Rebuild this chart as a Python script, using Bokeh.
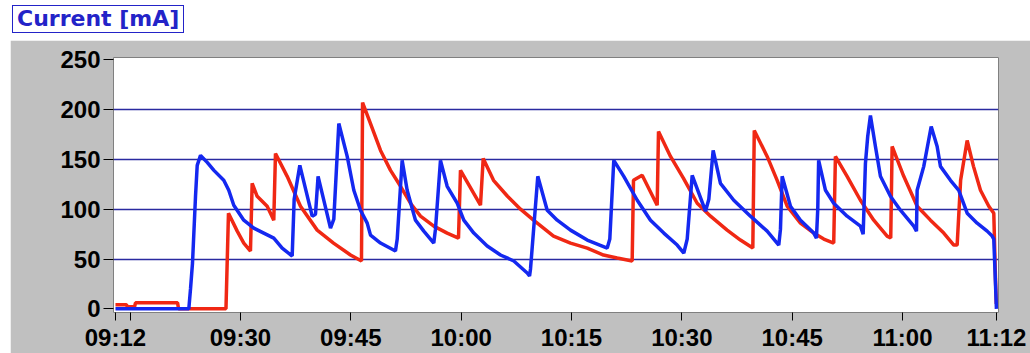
from bokeh.plotting import figure
from bokeh.layouts import column
from bokeh.models import Range1d, FixedTicker, Div
from bokeh.embed import file_html
from bokeh.resources import INLINE

# Time is given in minutes after 09:00, current in mA.
red_t = [13.01, 14.5, 14.64, 15.6, 15.73, 21.45, 21.58, 28.03, 28.37, 29.56, 30.45, 31.36,
         31.59, 32.27, 33.63, 34.53, 34.76, 36.35, 38.16, 40.43, 42.65, 44.96, 46.45, 46.6,
         47.68, 49.04, 50.40, 51.76, 53.11, 54.47, 56.28, 58.10, 59.64, 59.91, 62.63, 63.00,
         64.40, 66.30, 68.07, 69.84, 72.56, 74.87, 77.14, 79.35, 81.21, 83.25, 83.43, 84.61,
         86.65, 86.83, 88.46, 90.23, 92.09, 93.90, 96.16, 97.97, 99.65, 99.85, 101.60, 102.96,
         104.32, 106.13, 107.94, 109.3, 110.65, 110.88, 112.47, 114.28, 116.09, 117.91, 118.4,
         118.59, 120.17, 121.99, 123.80, 125.61, 126.97, 127.43, 127.9, 128.79, 129.65, 130.60,
         131.73, 132.41, 132.64, 132.75]
red_ma = [4, 4, 2, 2, 6, 6, 0, 0, 96, 78, 66, 58,
          126, 113, 103, 89, 156, 133, 103, 79, 66, 54, 48, 207,
          186, 159, 139, 123, 106, 93, 83, 76, 71, 139, 104, 151,
          129, 113, 100, 89, 73, 66, 61, 54, 51, 48, 129, 134,
          104, 178, 153, 131, 106, 93, 79, 69, 61, 179, 153, 129,
          103, 86, 76, 70, 66, 153, 133, 109, 89, 73, 71,
          163, 133, 103, 89, 76, 64, 64, 129, 169, 143, 119,
          103, 96, 30, 5]

blue_t = [13.01, 22.98, 23.21, 23.48, 23.89, 24.12, 24.57, 25.48, 26.39, 27.73, 28.41, 29.09,
          30.45, 31.81, 33.17, 34.53, 35.67, 37.03, 37.3, 38.07, 39.75, 40.20, 40.55, 42.24,
          42.69, 43.37, 44.51, 45.41, 46.32, 47.23, 47.68, 49.04, 51.07, 51.31, 51.98, 52.66,
          53.79, 54.92, 56.28, 56.51, 57.19, 58.10, 59.46, 60.36, 61.72, 63.54, 65.35, 67.16,
          68.98, 69.3, 69.43, 70.42, 71.70, 73.06, 74.87, 77.14, 79.86, 80.21, 80.75, 82.11,
          83.94, 85.74, 87.55, 89.37, 90.27, 90.73, 91.41, 93.22, 93.67, 94.26, 95.25, 97.06,
          99.33, 101.60, 103.18, 103.41, 103.64, 104.77, 106.13, 107.94, 108.30, 108.48, 108.6,
          109.53, 110.65, 112.47, 114.28, 114.65, 114.96, 115.27, 115.64, 116.32, 117.00,
          118.36, 119.72, 121.53, 121.90, 121.99, 122.89, 123.90, 124.71, 125.16, 126.52,
          127.65, 128.79, 130.15, 131.51, 132.19, 132.41, 132.64, 132.77]
blue_ma = [0, 0, 20, 46, 113, 144, 154, 147, 139, 129, 119, 104,
           89, 81, 76, 71, 61, 53, 110, 144, 93, 95, 133, 81,
           90, 186, 153, 119, 99, 86, 74, 66, 58, 70, 149, 119,
           89, 78, 66, 80, 149, 123, 106, 89, 76, 63, 54, 48,
           36, 33, 40, 133, 99, 89, 79, 69, 61, 70, 149, 133,
           109, 89, 76, 64, 56, 70, 134, 98, 110, 159, 126, 109,
           93, 78, 64, 80, 133, 103, 89, 76, 71, 100, 149,
           119, 106, 93, 83, 75, 146, 173, 194, 163, 133,
           113, 99, 83, 78, 119, 143, 183, 163, 143, 129,
           119, 96, 86, 78, 73, 70, 25, 0]

y_ticks = [0, 50, 100, 150, 200, 250]
grid_levels = [50, 100, 150, 200]
x_ticks = [13.0, 15, 30, 45, 60, 75, 90, 105, 120, 132.77]
x_tick_labels = ["09:12", "", "09:30", "09:45", "10:00", "10:15", "10:30", "10:45", "11:00", "11:12"]
caption = "Current [mA]"

TICK_FONT = "Liberation Sans"
GRAY = "#c0c0c0"
CAPTION_BLUE = "#2323c8"

# Boxed unit caption above the chart
header = Div(
    text=(f'<div style="margin:5px 0 0 12px; display:inline-block; box-sizing:border-box; '
          f'height:28px; border:1px solid {CAPTION_BLUE}; background:white; color:{CAPTION_BLUE}; '
          f"font-family:'DejaVu Sans'; font-weight:bold; font-size:22px; line-height:26px; "
          f'padding:0 4px; white-space:nowrap;">{caption}</div>'),
    width=1030, height=40, margin=(0, 0, 0, 0))

p = figure(width=1020, height=313, output_backend="svg", toolbar_location=None,
           x_range=Range1d(12.74, 133.05), y_range=Range1d(-3.7, 252.3),
           min_border_left=103, min_border_right=32, min_border_top=17, min_border_bottom=40,
           margin=(0, 0, 0, 10))
p.border_fill_color = GRAY
p.background_fill_color = "white"
p.outline_line_color = "#808080"
p.outline_line_width = 1

p.line(red_t, red_ma, line_color="#f02814", line_width=3.5)
p.line(blue_t, blue_ma, line_color="#1428f0", line_width=3.5)

p.xgrid.visible = False
p.ygrid.ticker = FixedTicker(ticks=grid_levels)
p.ygrid.grid_line_color = "#2a2aa0"
p.ygrid.grid_line_width = 1.3

p.yaxis.ticker = FixedTicker(ticks=y_ticks)
p.xaxis.ticker = FixedTicker(ticks=x_ticks)
p.xaxis.major_label_overrides = {t: lab for t, lab in zip(x_ticks, x_tick_labels)}

for ax in (p.xaxis[0], p.yaxis[0]):
    ax.axis_line_color = None
    ax.minor_tick_line_color = None
    ax.major_tick_in = 0
    ax.major_tick_line_color = "black"
    ax.major_label_text_font = TICK_FONT
    ax.major_label_text_font_style = "bold"
    ax.major_label_text_font_size = "24px"
    ax.major_label_text_color = "black"
    ax.major_label_standoff = 3
p.yaxis.major_tick_out = 10
p.xaxis.major_tick_out = 8

layout = column(header, p, spacing=0)
open("out.html", "w").write(file_html(layout, INLINE))
